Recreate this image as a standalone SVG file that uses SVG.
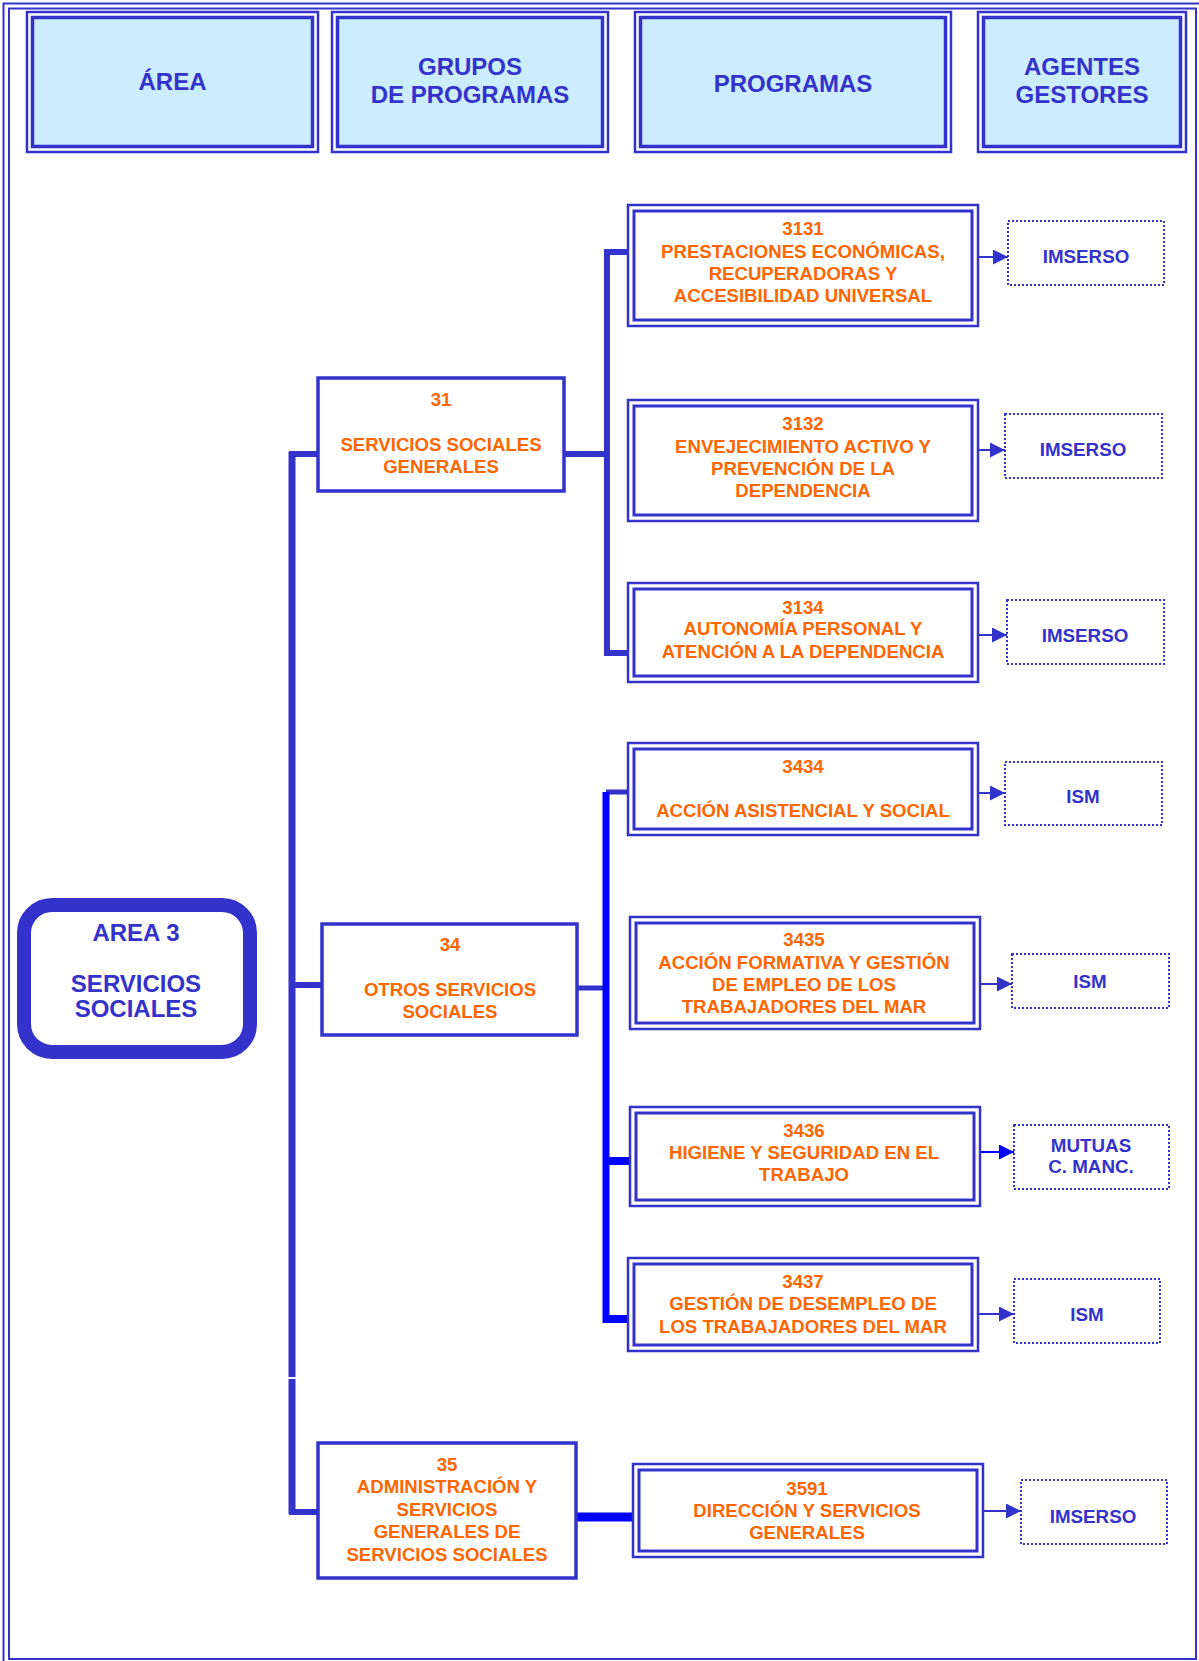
<svg xmlns="http://www.w3.org/2000/svg" width="1199" height="1661" viewBox="0 0 1199 1661">
<style>
text{font-family:"Liberation Sans",Arial,sans-serif;font-weight:bold;text-anchor:middle}
.h{font-size:24px;fill:#3333CC}
.a3{font-size:24px;fill:#3333CC}
.o{font-size:18.6px;fill:#FF6600}
.ag{font-size:18.8px;fill:#3333CC}
.hout{fill:none;stroke:#3333CC;stroke-width:2.5}
.hin{fill:#CCECFF;stroke:#3333CC;stroke-width:3.5}
.grp{fill:#FFFFFF;stroke:#3333CC;stroke-width:3.5}
.pout{fill:#FFFFFF;stroke:#3333CC;stroke-width:2.5}
.pin{fill:none;stroke:#3333CC;stroke-width:3}
.agb{fill:#FFFFFF;stroke:#3333CC;stroke-width:2;stroke-dasharray:2 2}
.c{stroke:#3333CC;fill:none}
.cb{stroke:#0000FF;fill:none}
.ar{stroke:#3333CC;stroke-width:2;fill:none;marker-end:url(#ah)}
.arb{stroke:#0000FF;stroke-width:2;fill:none;marker-end:url(#ahb)}
</style>
<defs>
<marker id="ah" markerUnits="userSpaceOnUse" markerWidth="16" markerHeight="16" refX="15" refY="7.5" orient="auto"><path d="M0,0 L15,7.5 L0,15 z" fill="#3333CC"/></marker>
<marker id="ahb" markerUnits="userSpaceOnUse" markerWidth="16" markerHeight="16" refX="15" refY="7.5" orient="auto"><path d="M0,0 L15,7.5 L0,15 z" fill="#0000FF"/></marker>
</defs>
<rect width="1199" height="1661" fill="#FFFFFF"/>
<g id="frame">
<path d="M3.5,1661 V3.5 H1199" fill="none" stroke="#3333CC" stroke-width="2"/>
<rect x="9" y="8.5" width="1187" height="1650.5" fill="none" stroke="#3333CC" stroke-width="2"/>
</g>
<g id="hdr-area">
<rect class="hout" x="27" y="12" width="291" height="140"/>
<rect class="hin" x="32.5" y="17.5" width="280" height="129"/>
<text class="h" x="172.5" y="90">ÁREA</text>
</g>
<g id="hdr-grupos">
<rect class="hout" x="332" y="12" width="276" height="140"/>
<rect class="hin" x="337.5" y="17.5" width="265" height="129"/>
<text class="h" x="470" y="75">GRUPOS</text>
<text class="h" x="470" y="103">DE PROGRAMAS</text>
</g>
<g id="hdr-programas">
<rect class="hout" x="635" y="12" width="316" height="140"/>
<rect class="hin" x="640.5" y="17.5" width="305" height="129"/>
<text class="h" x="793" y="92">PROGRAMAS</text>
</g>
<g id="hdr-agentes">
<rect class="hout" x="978" y="12" width="208" height="140"/>
<rect class="hin" x="983.5" y="17.5" width="197" height="129"/>
<text class="h" x="1082" y="75">AGENTES</text>
<text class="h" x="1082" y="103">GESTORES</text>
</g>
<g id="connectors">
<path class="c" stroke-width="7" d="M292,452 V1377 M292,1379 V1514"/>
<path class="c" stroke-width="6" d="M289,454 H318 M289,985 H322 M289,1512 H318"/>
<path class="c" stroke-width="6" d="M564,454 H610 M628,252 H607 V653 H628"/>
<path class="c" stroke-width="5" d="M577,988 H606 M606,792 H630"/>
<path class="cb" stroke-width="7" d="M606,792 V1323"/>
<path class="cb" stroke-width="8" d="M606,1161 H632 M603,1319 H630"/>
<path class="cb" stroke-width="9" d="M576,1517 H633"/>
<path class="ar" d="M978,257 H1008"/>
<path class="ar" d="M978,450 H1005"/>
<path class="ar" d="M978,635 H1007"/>
<path class="ar" d="M978,793 H1005"/>
<path class="ar" d="M980,984 H1012"/>
<path class="arb" d="M980,1152 H1014"/>
<path class="ar" d="M978,1314 H1014"/>
<path class="ar" d="M983,1511 H1021"/>
</g>
<g id="area3">
<rect x="24" y="905" width="226" height="147" rx="28" ry="28" fill="#FFFFFF" stroke="#3333CC" stroke-width="14"/>
<text class="a3" x="136" y="941">AREA 3</text>
<text class="a3" x="136" y="992">SERVICIOS</text>
<text class="a3" x="136" y="1017">SOCIALES</text>
</g>
<g id="g31">
<rect class="grp" x="318" y="378" width="246" height="113"/>
<text class="o" x="441" y="406">31</text>
<text class="o" x="441" y="451">SERVICIOS SOCIALES</text>
<text class="o" x="441" y="473">GENERALES</text>
</g>
<g id="g34">
<rect class="grp" x="322" y="924" width="255" height="111"/>
<text class="o" x="450" y="951">34</text>
<text class="o" x="450" y="996">OTROS SERVICIOS</text>
<text class="o" x="450" y="1018">SOCIALES</text>
</g>
<g id="g35">
<rect class="grp" x="318" y="1443" width="258" height="135"/>
<text class="o" x="447" y="1471">35</text>
<text class="o" x="447" y="1493">ADMINISTRACIÓN Y</text>
<text class="o" x="447" y="1516">SERVICIOS</text>
<text class="o" x="447" y="1538">GENERALES DE</text>
<text class="o" x="447" y="1561">SERVICIOS SOCIALES</text>
</g>
<g id="p3131">
<rect class="pout" x="628" y="205" width="350" height="121"/>
<rect class="pin" x="634" y="211" width="338" height="109"/>
<text class="o" x="803" y="235">3131</text>
<text class="o" x="803" y="258">PRESTACIONES ECONÓMICAS,</text>
<text class="o" x="803" y="280">RECUPERADORAS Y</text>
<text class="o" x="803" y="302">ACCESIBILIDAD UNIVERSAL</text>
</g>
<g id="p3132">
<rect class="pout" x="628" y="400" width="350" height="121"/>
<rect class="pin" x="634" y="406" width="338" height="109"/>
<text class="o" x="803" y="430">3132</text>
<text class="o" x="803" y="453">ENVEJECIMIENTO ACTIVO Y</text>
<text class="o" x="803" y="475">PREVENCIÓN DE LA</text>
<text class="o" x="803" y="497">DEPENDENCIA</text>
</g>
<g id="p3134">
<rect class="pout" x="628" y="583" width="350" height="99"/>
<rect class="pin" x="634" y="589" width="338" height="87"/>
<text class="o" x="803" y="614">3134</text>
<text class="o" x="803" y="635">AUTONOMÍA PERSONAL Y</text>
<text class="o" x="803" y="658">ATENCIÓN A LA DEPENDENCIA</text>
</g>
<g id="p3434">
<rect class="pout" x="628" y="743" width="350" height="92"/>
<rect class="pin" x="634" y="749" width="338" height="80"/>
<text class="o" x="803" y="773">3434</text>
<text class="o" x="803" y="817">ACCIÓN ASISTENCIAL Y SOCIAL</text>
</g>
<g id="p3435">
<rect class="pout" x="630" y="917" width="350" height="112"/>
<rect class="pin" x="636" y="923" width="338" height="100"/>
<text class="o" x="804" y="946">3435</text>
<text class="o" x="804" y="969">ACCIÓN FORMATIVA Y GESTIÓN</text>
<text class="o" x="804" y="991">DE EMPLEO DE LOS</text>
<text class="o" x="804" y="1013">TRABAJADORES DEL MAR</text>
</g>
<g id="p3436">
<rect class="pout" x="630" y="1107" width="350" height="99"/>
<rect class="pin" x="636" y="1113" width="338" height="87"/>
<text class="o" x="804" y="1137">3436</text>
<text class="o" x="804" y="1159">HIGIENE Y SEGURIDAD EN EL</text>
<text class="o" x="804" y="1181">TRABAJO</text>
</g>
<g id="p3437">
<rect class="pout" x="628" y="1258" width="350" height="93"/>
<rect class="pin" x="634" y="1264" width="338" height="81"/>
<text class="o" x="803" y="1288">3437</text>
<text class="o" x="803" y="1310">GESTIÓN DE DESEMPLEO DE</text>
<text class="o" x="803" y="1333">LOS TRABAJADORES DEL MAR</text>
</g>
<g id="p3591">
<rect class="pout" x="633" y="1464" width="350" height="93"/>
<rect class="pin" x="639" y="1470" width="338" height="81"/>
<text class="o" x="807" y="1495">3591</text>
<text class="o" x="807" y="1517">DIRECCIÓN Y SERVICIOS</text>
<text class="o" x="807" y="1539">GENERALES</text>
</g>
<g id="ag1"><rect class="agb" x="1008" y="221" width="156" height="64"/><text class="ag" x="1086" y="263">IMSERSO</text></g>
<g id="ag2"><rect class="agb" x="1005" y="414" width="157" height="64"/><text class="ag" x="1083" y="456">IMSERSO</text></g>
<g id="ag3"><rect class="agb" x="1007" y="600" width="157" height="64"/><text class="ag" x="1085" y="642">IMSERSO</text></g>
<g id="ag4"><rect class="agb" x="1005" y="762" width="157" height="63"/><text class="ag" x="1083" y="803">ISM</text></g>
<g id="ag5"><rect class="agb" x="1012" y="954" width="157" height="54"/><text class="ag" x="1090" y="988">ISM</text></g>
<g id="ag6"><rect class="agb" x="1014" y="1125" width="155" height="64"/><text class="ag" x="1091" y="1152">MUTUAS</text><text class="ag" x="1091" y="1173">C. MANC.</text></g>
<g id="ag7"><rect class="agb" x="1014" y="1279" width="146" height="64"/><text class="ag" x="1087" y="1321">ISM</text></g>
<g id="ag8"><rect class="agb" x="1021" y="1480" width="146" height="64"/><text class="ag" x="1093" y="1523">IMSERSO</text></g>
</svg>
